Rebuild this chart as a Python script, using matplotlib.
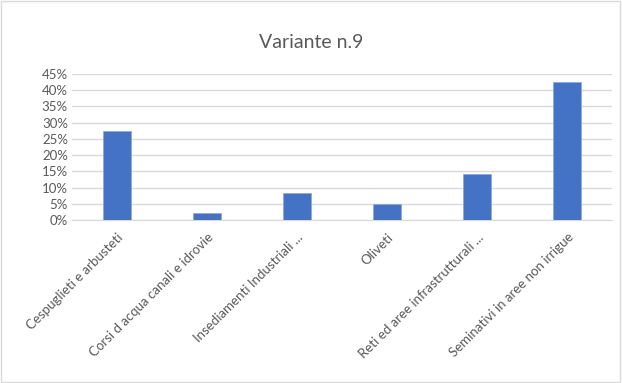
import matplotlib
matplotlib.use('Agg')
import matplotlib.pyplot as plt
from matplotlib.ticker import PercentFormatter
from matplotlib.patches import Rectangle

categories = ["Cespuglieti e arbusteti", "Corsi d acqua canali e idrovie",
              "Insediamenti Industriali ...", "Oliveti",
              "Reti ed aree infrastrutturali ...", "Seminativi in aree non irrigue"]
values = [0.273, 0.021, 0.083, 0.050, 0.142, 0.424]
yticks = [0, 0.05, 0.10, 0.15, 0.20, 0.25, 0.30, 0.35, 0.40, 0.45]

plt.rcParams['font.family'] = ['Lato', 'DejaVu Sans']
text_grey = "#595959"

fig = plt.figure(figsize=(6.22, 3.83), dpi=100)
ax = fig.add_axes([0.116, 0.4256, 0.868, 0.3814])

x = range(len(categories))
ax.bar(x, values, width=0.31, color="#4472C4", edgecolor="#8FAADC", linewidth=0.6, zorder=3)

ax.set_ylim(0, 0.45)
ax.set_xlim(-0.5, len(categories) - 0.5)
ax.set_yticks(yticks)
ax.yaxis.set_major_formatter(PercentFormatter(1.0, decimals=0))
ax.grid(axis="y", color="#D9D9D9", linewidth=1, zorder=0)
for s in ["top", "right", "left"]:
    ax.spines[s].set_visible(False)
ax.spines["bottom"].set_color("#D9D9D9")
ax.tick_params(axis="both", length=0, colors=text_grey, labelsize=9.5)
ax.tick_params(axis="y", pad=3)
ax.set_xticks(list(x))
ax.set_xticklabels(categories, rotation=45, ha="right", rotation_mode="anchor")
ax.tick_params(axis="x", pad=8)

fig.text(0.5, 0.89, "Variante n.9", ha="center", va="center", fontsize=14, color=text_grey)

fig.patches.append(Rectangle((0.002, 0.003), 0.994, 0.994, transform=fig.transFigure,
                             fill=False, edgecolor="#D9D9D9", linewidth=1))

plt.savefig("out.png", dpi=100)
